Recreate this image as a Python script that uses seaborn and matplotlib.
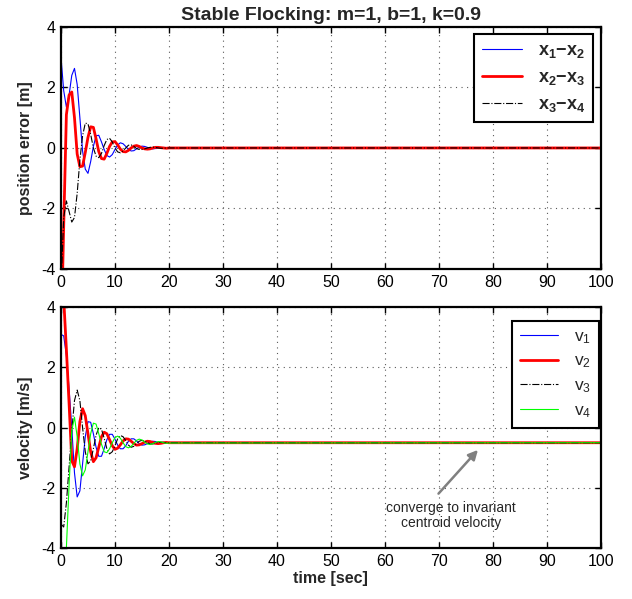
import matplotlib
matplotlib.use('Agg')
import matplotlib.pyplot as plt
import seaborn as sns

# sample times [sec]; after 20 s every signal sits flat until the end
time = [0.0, 0.5, 1.0, 1.5, 2.0, 2.5, 3.0, 3.5, 4.0, 4.5,
        5.0, 5.5, 6.0, 6.5, 7.0, 7.5, 8.0, 8.5, 9.0, 9.5,
        10.0, 10.5, 11.0, 11.5, 12.0, 12.5, 13.0, 13.5, 14.0, 14.5,
        15.0, 15.5, 16.0, 16.5, 17.0, 17.5, 18.0, 18.5, 19.0, 19.5,
        20.0, 100.0]

# position errors [m]
err_12 = [3.0, 1.9, 1.35, 1.75, 2.4, 2.63, 2.1, 1.0, -0.1, -0.7,
          -0.84, -0.45, 0.05, 0.4, 0.42, 0.2, -0.05, -0.25, -0.3, -0.22,
          -0.05, 0.1, 0.17, 0.14, 0.05, -0.05, -0.1, -0.09, -0.03, 0.03,
          0.06, 0.05, 0.02, -0.02, -0.03, -0.02, 0.0, 0.01, 0.015, 0.01,
          0.0, 0.0]
err_23 = [-6.5, -2.6, 1.1, 1.75, 1.85, 1.0, -0.2, -0.62, -0.6, -0.15,
          0.35, 0.7, 0.68, 0.3, -0.12, -0.35, -0.37, -0.18, 0.05, 0.2,
          0.21, 0.1, -0.04, -0.12, -0.13, -0.08, 0.0, 0.06, 0.08, 0.05,
          0.0, -0.03, -0.04, -0.03, 0.0, 0.02, 0.02, 0.01, 0.0, -0.01,
          0.0, 0.0]
err_34 = [-4.6, -2.3, -1.75, -2.1, -2.45, -2.3, -1.5, -0.4, 0.4, 0.82,
          0.8, 0.45, 0.0, -0.27, -0.32, -0.18, 0.08, 0.28, 0.32, 0.2,
          0.0, -0.13, -0.16, -0.1, 0.0, 0.09, 0.1, 0.05, -0.02, -0.05,
          -0.05, -0.03, 0.0, 0.02, 0.03, 0.02, 0.0, -0.01, -0.01, 0.0,
          0.0, 0.0]

# velocities [m/s]
vel_1 = [3.1, 3.05, 2.4, 1.3, 0.0, -1.5, -2.3, -2.1, -1.2, -0.3,
         0.2, 0.18, -0.2, -0.65, -0.95, -0.95, -0.7, -0.4, -0.22, -0.22,
         -0.38, -0.58, -0.7, -0.7, -0.6, -0.45, -0.37, -0.37, -0.44, -0.53,
         -0.58, -0.57, -0.53, -0.47, -0.45, -0.46, -0.5, -0.52, -0.52, -0.51,
         -0.5, -0.5]
vel_2 = [5.6, 4.3, 2.6, 0.8, -1.1, -1.3, -0.7, 0.2, 0.63, 0.4,
         -0.2, -0.8, -1.13, -1.0, -0.65, -0.3, -0.15, -0.2, -0.4, -0.6,
         -0.72, -0.68, -0.57, -0.44, -0.37, -0.38, -0.45, -0.53, -0.58, -0.57,
         -0.53, -0.48, -0.45, -0.46, -0.49, -0.52, -0.53, -0.52, -0.5, -0.49,
         -0.5, -0.5]
vel_3 = [-3.2, -3.3, -2.5, -1.3, -0.1, 0.9, 1.25, 0.9, 0.0, -0.8,
         -1.2, -1.1, -0.7, -0.25, 0.0, -0.05, -0.35, -0.7, -0.87, -0.8,
         -0.6, -0.37, -0.26, -0.3, -0.43, -0.58, -0.65, -0.62, -0.53, -0.45,
         -0.42, -0.44, -0.5, -0.54, -0.54, -0.52, -0.49, -0.48, -0.49, -0.5,
         -0.5, -0.5]
vel_4 = [-7.5, -6.2, -4.0, -1.9, -0.1, 0.35, -0.3, -1.2, -1.6, -1.4,
         -0.8, -0.2, 0.15, 0.12, -0.2, -0.55, -0.8, -0.83, -0.7, -0.5,
         -0.33, -0.28, -0.35, -0.5, -0.63, -0.67, -0.62, -0.52, -0.42, -0.38,
         -0.41, -0.48, -0.54, -0.56, -0.53, -0.49, -0.46, -0.47, -0.5, -0.52,
         -0.51, -0.5]

err_labels = [r'$\mathbf{x_1{-}x_2}$', r'$\mathbf{x_2{-}x_3}$', r'$\mathbf{x_3{-}x_4}$']
vel_labels = [r'v$_1$', r'v$_2$', r'v$_3$', r'v$_4$']
x_ticks = [0, 10, 20, 30, 40, 50, 60, 70, 80, 90, 100]
y_ticks = [-4, -2, 0, 2, 4]

sns.set_style('ticks')
plt.rcParams['font.family'] = ['Liberation Sans', 'DejaVu Sans']
plt.rcParams['mathtext.fontset'] = 'custom'
plt.rcParams['mathtext.rm'] = 'Liberation Sans'
plt.rcParams['mathtext.it'] = 'Liberation Sans'
plt.rcParams['mathtext.bf'] = 'Liberation Sans:bold'
plt.rcParams['axes.unicode_minus'] = False


def style_axes(ax):
    ax.set_xlim(0, 100)
    ax.set_ylim(-4, 4)
    ax.set_xticks(x_ticks)
    ax.set_yticks(y_ticks)
    ax.tick_params(direction='in', length=4, width=1, top=True, right=True,
                   labelsize=11.5, colors='black', pad=4)
    ax.grid(True, linestyle=(0, (1, 4)), color='0.35', linewidth=0.8)
    for sp in ax.spines.values():
        sp.set_visible(True)
        sp.set_linewidth(1.6)
        sp.set_color('black')


fig = plt.figure(figsize=(6.32, 5.99), dpi=100)
ax1 = fig.add_axes([0.0965, 0.551, 0.854, 0.404])
ax2 = fig.add_axes([0.0965, 0.085, 0.854, 0.402])

# position errors
sns.lineplot(x=time, y=err_12, ax=ax1, color='blue', linewidth=0.8, label=err_labels[0])
sns.lineplot(x=time, y=err_23, ax=ax1, color='red', linewidth=2.0, label=err_labels[1])
sns.lineplot(x=time, y=err_34, ax=ax1, color='black', linewidth=0.8, linestyle='-.', label=err_labels[2])
style_axes(ax1)
ax1.set_ylabel('position error [m]', fontsize=11.5, fontweight='bold', labelpad=6)
ax1.set_title('Stable Flocking: m=1, b=1, k=0.9', fontsize=14, fontweight='bold', pad=5)
leg1 = ax1.legend(loc='upper right', fontsize=13, frameon=True, fancybox=False,
                  edgecolor='black', framealpha=1, handlelength=2.2, labelspacing=0.5,
                  borderaxespad=0.4, handletextpad=0.9, borderpad=0.45)
leg1.get_frame().set_linewidth(1.5)

# velocities
sns.lineplot(x=time, y=vel_1, ax=ax2, color='blue', linewidth=0.8, label=vel_labels[0])
sns.lineplot(x=time, y=vel_2, ax=ax2, color='red', linewidth=2.0, label=vel_labels[1])
sns.lineplot(x=time, y=vel_3, ax=ax2, color='black', linewidth=0.8, linestyle='-.', label=vel_labels[2])
sns.lineplot(x=time, y=vel_4, ax=ax2, color='#00ff00', linewidth=0.8, label=vel_labels[3])
style_axes(ax2)
ax2.set_ylabel('velocity [m/s]', fontsize=11.5, fontweight='bold', labelpad=6)
ax2.set_xlabel('time [sec]', fontsize=11.5, fontweight='bold', labelpad=2)
leg2 = ax2.legend(loc='upper right', fontsize=12.5, frameon=True, fancybox=False,
                  edgecolor='black', framealpha=1, handlelength=2.2, labelspacing=0.45,
                  borderaxespad=0.1, handletextpad=0.9, borderpad=0.45,
                  bbox_to_anchor=(1.0, 0.95))
leg2.get_frame().set_linewidth(1.5)

ax2.annotate('', xy=(77.6, -0.67), xytext=(69.6, -2.26),
             arrowprops=dict(arrowstyle='-|>', color='0.5', lw=1.8, mutation_scale=14))
ax2.text(72.3, -2.42, 'converge to invariant\ncentroid velocity', ha='center', va='top',
         fontsize=10, linespacing=1.15)

fig.savefig('out.png', dpi=100)
